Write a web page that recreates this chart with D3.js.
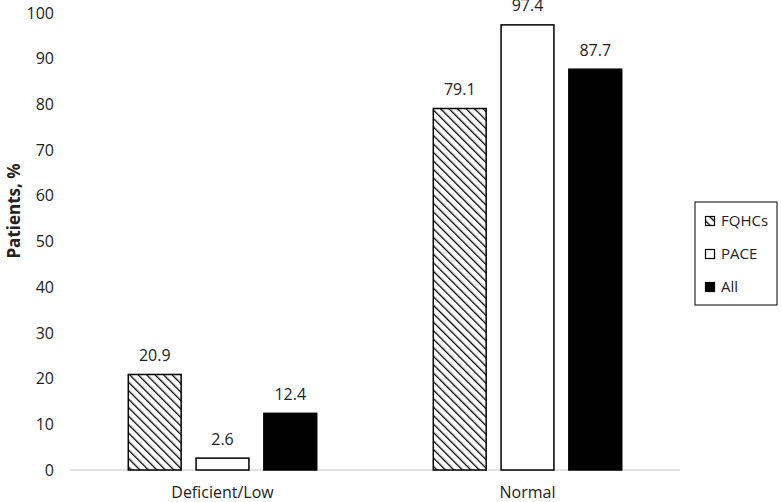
<!DOCTYPE html>
<html><head><meta charset="utf-8">
<script src="https://cdn.jsdelivr.net/npm/d3@7"></script>
<style>body{margin:0;background:#fff}svg{display:block}text{font-family:"Open Sans","Noto Sans",sans-serif;fill:#222}</style>
</head><body><svg id="c" width="782" height="502"></svg>
<script>
const categories = ["Deficient/Low", "Normal"];
const series = ["FQHCs", "PACE", "All"];
const fqhcs = [20.9, 79.1];
const pace = [2.6, 97.4];
const all = [12.4, 87.7];
const yTicks = [0,10,20,30,40,50,60,70,80,90,100];

const values = [fqhcs, pace, all];
const svg = d3.select("#c");
const defs = svg.append("defs");
const pat = defs.append("pattern").attr("id","hatch").attr("patternUnits","userSpaceOnUse")
  .attr("width",6).attr("height",6).attr("patternTransform","rotate(-45)");
pat.append("rect").attr("width",6).attr("height",6).attr("fill","#fff");
pat.append("line").attr("x1",0).attr("y1",0).attr("x2",0).attr("y2",6).attr("stroke","#000").attr("stroke-width",2.6);
const fills = ["url(#hatch)", "#fff", "#000"];

const x0 = d3.scaleBand().domain(categories).range([70,680]).paddingInner(0).paddingOuter(0);
const x1 = d3.scaleBand().domain(series).range([0, x0.bandwidth()]).paddingInner(0.22).paddingOuter(0.86);
const y = d3.scaleLinear().domain([0,100]).range([470,13]);

// y tick labels
const yAxis = d3.axisLeft(y).tickValues(yTicks).tickSize(0).tickPadding(0);
const ga = svg.append("g").attr("transform","translate(54,0)").call(yAxis);
ga.select(".domain").remove();
ga.selectAll("text").style("font-size","16px").attr("fill","#222").style("font-family",'"Open Sans",sans-serif');

// baseline
svg.append("line").attr("x1",70).attr("x2",680).attr("y1",y(0)).attr("y2",y(0)).attr("stroke","#d9d9d9").attr("stroke-width",1.3);

// bars
series.forEach((s,i)=>{
  const g = svg.append("g");
  categories.forEach((c,j)=>{
    const v = values[i][j];
    const bx = x0(c)+x1(s);
    g.append("rect").attr("x",bx).attr("y",y(v)).attr("width",x1.bandwidth()).attr("height",y(0)-y(v))
      .attr("fill",fills[i]).attr("stroke","#000").attr("stroke-width",1.5);
    svg.append("text").attr("x",bx+x1.bandwidth()/2).attr("y",y(v)-19).attr("dy","0.35em").attr("text-anchor","middle")
      .style("font-size","16px").text(v.toFixed(1));
  });
});

// x labels
const xAxis = d3.axisBottom(x0).tickSize(0).tickPadding(0);
const gx = svg.append("g").attr("transform","translate(0,492)").call(xAxis);
gx.select(".domain").remove();
gx.selectAll("text").style("font-size","16px").attr("fill","#222").attr("dy","0.35em").style("font-family",'"Open Sans",sans-serif');

// y title
svg.append("text").attr("transform","translate(14,211) rotate(-90)").attr("text-anchor","middle")
  .attr("dy","0.35em").style("font-size","17px").style("font-weight","bold").text("Patients, %");

// legend
svg.append("rect").attr("x",695).attr("y",202).attr("width",82).attr("height",103).attr("fill","#fff").attr("stroke","#000").attr("stroke-width",1);
series.forEach((s,i)=>{
  const ly = 221 + i*33;
  svg.append("rect").attr("x",705.5).attr("y",ly-4.5).attr("width",9).attr("height",9).attr("fill",fills[i]).attr("stroke","#000").attr("stroke-width",1.2);
  svg.append("text").attr("x",721).attr("y",ly).attr("dy","0.35em").style("font-size","15px").text(s);
});
</script></body></html>
